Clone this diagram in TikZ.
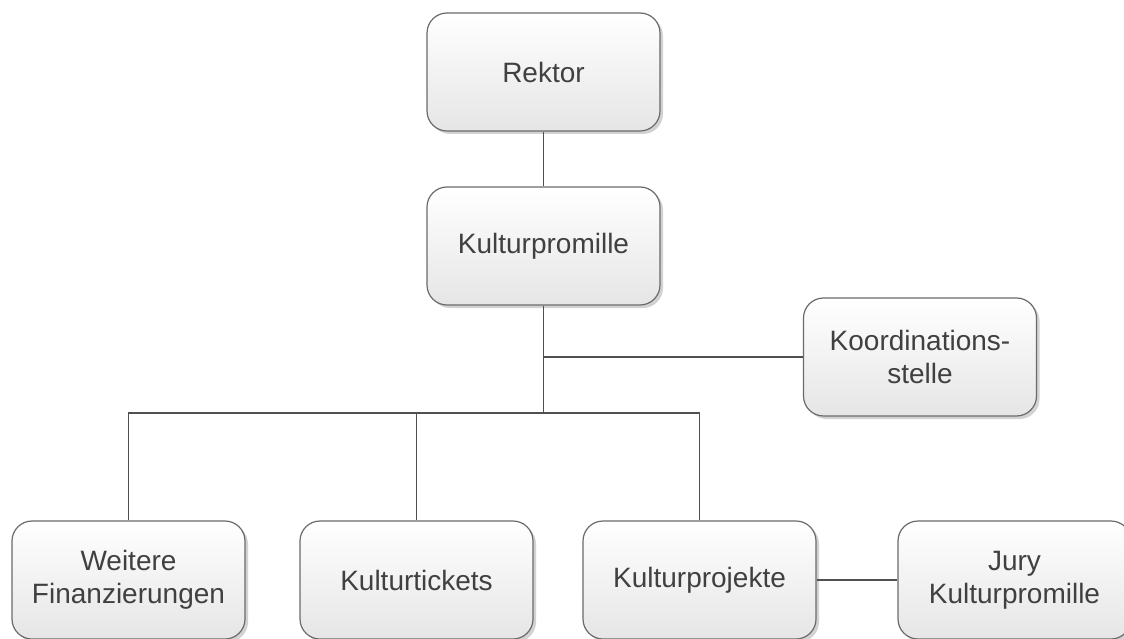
\documentclass[tikz,border=0pt]{standalone}
\usepackage{fontspec}
\setmainfont{Liberation Sans}
\usetikzlibrary{shadows}
\definecolor{txt}{HTML}{404040}
\definecolor{bord}{HTML}{6A6A6A}
\definecolor{conn}{HTML}{505050}
\begin{document}
\begin{tikzpicture}[x=1pt,y=-1pt,
  box/.style={draw=bord, line width=1.2pt, rounded corners=20pt,
    minimum width=233pt, minimum height=118pt, inner sep=0pt,
    top color=white, bottom color=black!10, shading angle=0,
    drop shadow={shadow xshift=3pt, shadow yshift=-3pt, fill=black!35, opacity=0.5},
    text=txt, align=center, font=\fontsize{28pt}{33pt}\selectfont},
  conn/.style={draw=conn, line width=1.1pt}]
\useasboundingbox (0,0) rectangle (1124,639);
\node[box] (rk) at (543.5,72) {Rektor};
\node[box] (kp) at (543.5,246) {Kulturpromille};
\node[box] (ks) at (920,357) {Koordinations-\\stelle};
\node[box] (wf) at (128.5,580) {Weitere\\Finanzierungen};
\node[box] (kt) at (416.5,580) {Kulturtickets};
\node[box] (kj) at (699.5,580) {Kulturprojekte};
\node[box] (jy) at (1014.5,580) {Jury\\Kulturpromille};
\coordinate (bus) at (543.5,413);
\coordinate (kbr) at (543.5,357);
\draw[conn] (rk) -- (kp);
\draw[conn] (kp) -- (bus);
\draw[conn] (kbr) -- (ks);
\draw[conn] (wf) |- (bus);
\draw[conn] (kj) |- (bus);
\draw[conn] (kt) -- (kt |- bus);
\draw[conn] (kj) -- (jy);
\end{tikzpicture}
\end{document}
